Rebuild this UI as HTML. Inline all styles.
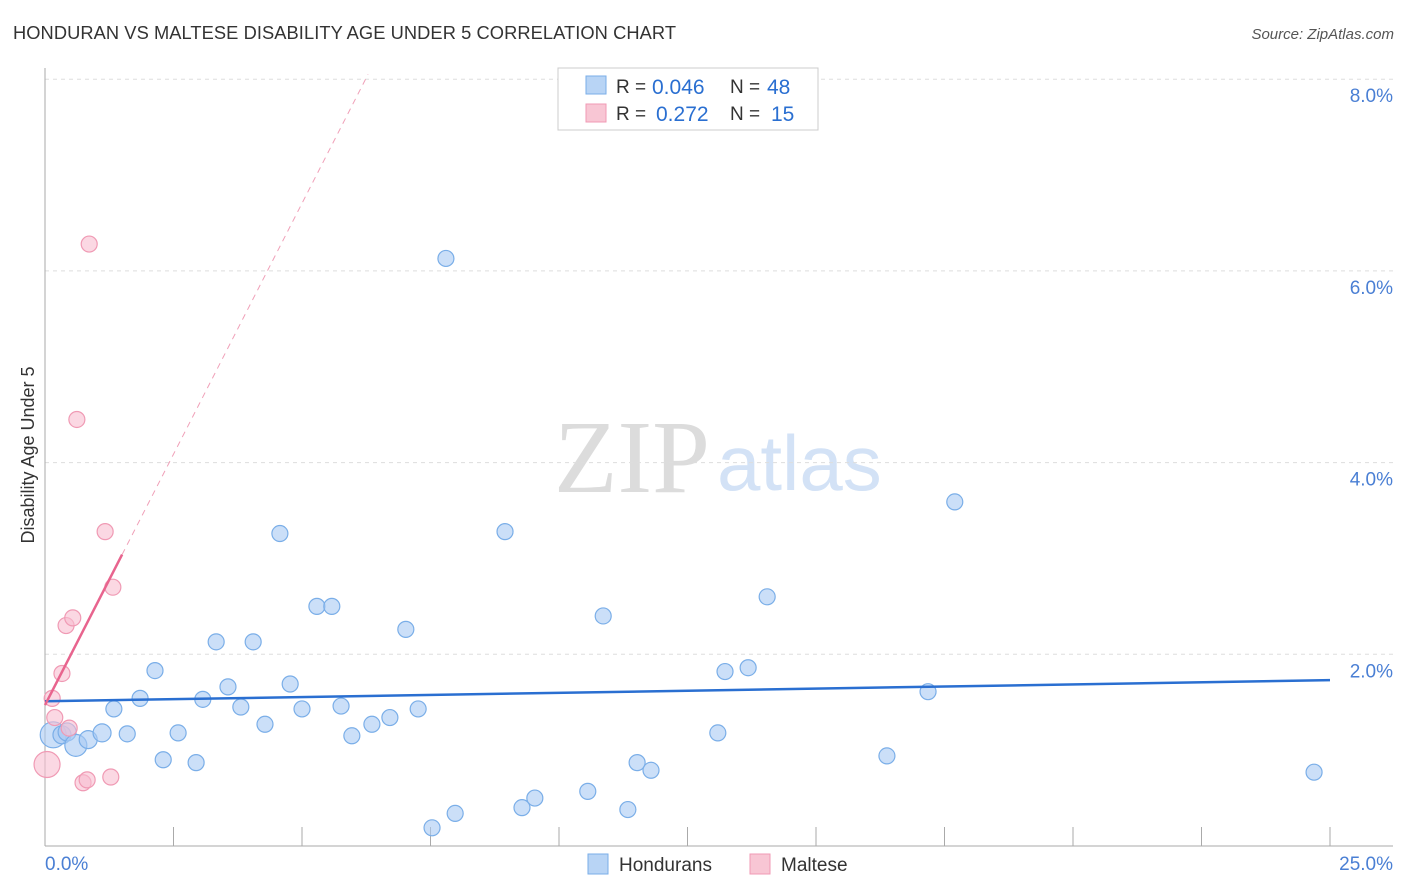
<!DOCTYPE html>
<html><head><meta charset="utf-8">
<style>
body{margin:0;background:#fff;font-family:"Liberation Sans",sans-serif;}
svg{display:block}
</style></head>
<body>
<svg id="chart" width="1406" height="892">
<text x="13" y="39" font-size="18.3" fill="#333" textLength="663">HONDURAN VS MALTESE DISABILITY AGE UNDER 5 CORRELATION CHART</text>
<text x="1394" y="39" font-size="15" fill="#555" font-style="italic" text-anchor="end">Source: ZipAtlas.com</text>
<text x="554" y="492" font-size="104" fill="#dcdcdc" font-family="Liberation Serif,serif">ZIP</text>
<text x="717" y="490" font-size="78" fill="#d3e2f6">atlas</text>
<text transform="translate(34,455) rotate(-90)" font-size="18" fill="#333" text-anchor="middle">Disability Age Under 5</text>
<g id="grid"></g><g id="marks"></g>
<g>
<rect x="558" y="68" width="260" height="62" fill="#fff" stroke="#ccc"/>
<rect x="586" y="76" width="20" height="18" fill="#b8d4f5" stroke="#7aaee8"/>
<rect x="586" y="104" width="20" height="18" fill="#f8c6d4" stroke="#f09ab4"/>
<text x="616" y="93" font-size="19" fill="#333">R =</text>
<text x="652" y="94" font-size="21" fill="#2a6fd1">0.046</text>
<text x="730" y="93" font-size="19" fill="#333">N =</text>
<text x="767" y="94" font-size="21" fill="#2a6fd1">48</text>
<text x="616" y="120" font-size="19" fill="#333">R =</text>
<text x="656" y="121" font-size="21" fill="#2a6fd1">0.272</text>
<text x="730" y="120" font-size="19" fill="#333">N =</text>
<text x="771" y="121" font-size="21" fill="#2a6fd1">15</text>
</g>
<g>
<rect x="588" y="854" width="20" height="20" fill="#b8d4f5" stroke="#7aaee8"/>
<text x="619" y="871" font-size="19" fill="#333">Hondurans</text>
<rect x="750" y="854" width="20" height="20" fill="#f8c6d4" stroke="#f09ab4"/>
<text x="781" y="871" font-size="19" fill="#333">Maltese</text>
</g>
</svg>
<script>
const yTicks=[2,4,6,8];
const xTickVals=[0,2.5,5,7.5,10,12.5,15,17.5,20,22.5,25];
const blueX=[0.16,0.33,0.43,0.60,0.84,1.11,1.34,1.60,1.85,2.14,2.30,2.59,2.94,3.07,3.33,3.56,3.81,4.05,4.28,4.57,4.77,5.00,5.29,5.58,5.76,5.97,6.36,6.71,7.02,7.26,7.53,7.98,7.80,8.95,9.28,9.53,10.56,10.86,11.34,11.52,11.79,13.09,13.23,13.68,14.05,16.38,17.18,17.70,24.69];
const blueY=[1.16,1.16,1.19,1.05,1.11,1.18,1.43,1.17,1.54,1.83,0.90,1.18,0.87,1.53,2.13,1.66,1.45,2.13,1.27,3.26,1.69,1.43,2.50,2.50,1.46,1.15,1.27,1.34,2.26,1.43,0.19,0.34,6.13,3.28,0.40,0.50,0.57,2.40,0.38,0.87,0.79,1.18,1.82,1.86,2.60,0.94,1.61,3.59,0.77];
const blueR=[13,9,9,11,9,9,8,8,8,8,8,8,8,8,8,8,8,8,8,8,8,8,8,8,8,8,8,8,8,8,8,8,8,8,8,8,8,8,8,8,8,8,8,8,8,8,8,8,8];
const pinkX=[0.04,0.14,0.19,0.33,0.41,0.47,0.54,0.62,0.74,0.82,0.86,1.17,1.28,1.32];
const pinkY=[0.85,1.54,1.34,1.80,2.30,1.23,2.38,4.45,0.66,0.69,6.28,3.28,0.72,2.70];
const pinkR=[13,8,8,8,8,8,8,8,8,8,8,8,8,8];
const blueTrend=[1.51,1.73]; // at x=0 and x=25
const pinkTrend=[1.47,1.047]; // intercept, slope
const NS="http://www.w3.org/2000/svg";
const X=v=>45+v*51.4, Y=v=>846-v*95.85;
const grid=document.getElementById('grid'), marks=document.getElementById('marks');
function mk(p,tag,a){const e=document.createElementNS(NS,tag);for(const k in a)e.setAttribute(k,a[k]);p.appendChild(e);return e;}
yTicks.forEach(t=>{
 const l=mk(grid,'line',{x1:45,x2:1393,y1:Y(t),y2:Y(t),stroke:'#ddd','stroke-dasharray':'4,4'});
 
 
 const tx=mk(grid,'text',{x:1393,y:Y(t)+23,'font-size':19,fill:'#4a7fd4','text-anchor':'end'});tx.textContent=t.toFixed(1)+'%';
 
 
});
const ax=mk(grid,'line',{x1:45,x2:45,y1:68,y2:846,stroke:'#aaa'});


const bx=mk(grid,'line',{x1:45,x2:1393,y1:846,y2:846,stroke:'#aaa'});


xTickVals.forEach(t=>{const l=mk(grid,'line',{x1:X(t),x2:X(t),y1:827,y2:846,stroke:'#aaa'});
 
 });
const xl0=mk(grid,'text',{x:45,y:870,'font-size':19,fill:'#4a7fd4'});xl0.textContent='0.0%';


const xl1=mk(grid,'text',{x:1393,y:870,'font-size':19,fill:'#4a7fd4','text-anchor':'end'});xl1.textContent='25.0%';


blueX.forEach((v,i)=>{const c=mk(marks,'circle',{cx:X(v),cy:Y(blueY[i]),r:blueR[i],fill:'rgba(168,202,243,0.6)',stroke:'#7aaee8','stroke-width':1.2});
 
 });
pinkX.forEach((v,i)=>{const c=mk(marks,'circle',{cx:X(v),cy:Y(pinkY[i]),r:pinkR[i],fill:'rgba(248,190,208,0.6)',stroke:'#f09ab4','stroke-width':1.2});
 
 });
const bt=mk(marks,'line',{x1:X(0),y1:Y(blueTrend[0]),x2:X(25),y2:Y(blueTrend[1]),stroke:'#2a6fd1','stroke-width':2.5});


const pt=mk(marks,'line',{x1:X(0),y1:Y(pinkTrend[0]),x2:X(1.5),y2:Y(pinkTrend[0]+1.5*pinkTrend[1]),stroke:'#e8648e','stroke-width':2.5});


const xe=(8.05-pinkTrend[0])/pinkTrend[1];
const pd=mk(marks,'line',{x1:X(1.5),y1:Y(pinkTrend[0]+1.5*pinkTrend[1]),x2:X(xe),y2:Y(8.05),stroke:'#f0a0b8','stroke-width':1,'stroke-dasharray':'6,5'});


</script>
</body></html>
